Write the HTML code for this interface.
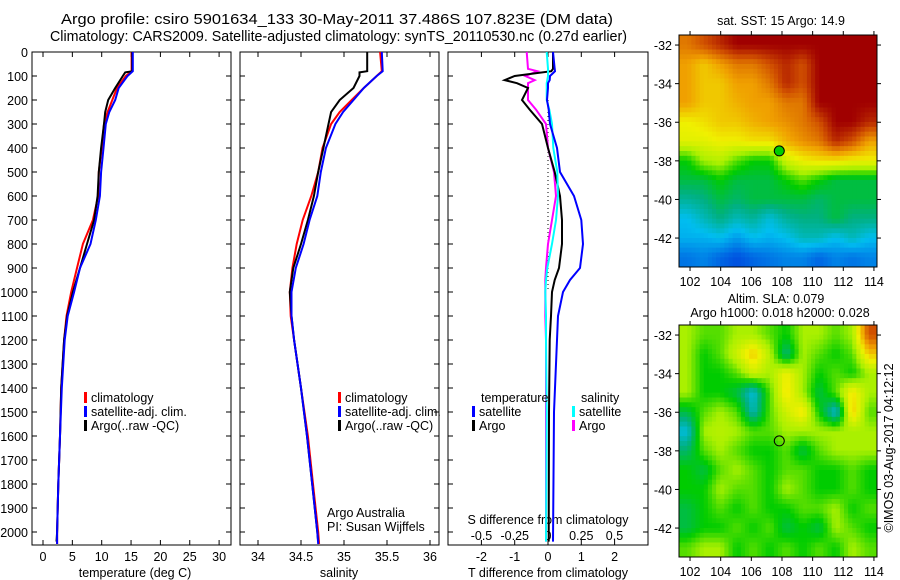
<!DOCTYPE html>
<html><head><meta charset="utf-8">
<style>
html,body{margin:0;padding:0;background:#fff;}
svg{display:block;font-family:"Liberation Sans",sans-serif;}
text{font-size:12.5px;fill:#000;}
</style></head>
<body>
<svg id="c" width="900" height="580" viewBox="0 0 900 580">
<text x="61" y="24" textLength="552" lengthAdjust="spacingAndGlyphs" style="font-size:15px">Argo profile: csiro 5901634_133 30-May-2011 37.486S 107.823E (DM data)</text>
<text x="50" y="41" textLength="577" lengthAdjust="spacingAndGlyphs" style="font-size:15px">Climatology: CARS2009. Satellite-adjusted climatology: synTS_20110530.nc (0.27d earlier)</text>
<g id="g"></g>
</svg>
<script>
// ---------- data ----------
const depthTicks=[0,100,200,300,400,500,600,700,800,900,1000,1100,1200,1300,1400,1500,1600,1700,1800,1900,2000];
const tTicks=[0,5,10,15,20,25,30];
const sTicks=[34,34.5,35,35.5,36];
const tdTicks=[-2,-1,0,1,2];
const sdTicks=[-0.5,-0.25,0,0.25,0.5];
const sdLabels=['-0.5','-0.25','0','0.25','0.5'];
const latTicks=[-32,-34,-36,-38,-40,-42];
const lonTicks=[102,104,106,108,110,112,114];

const dT=[0,80,100,150,200,250,300,400,500,600,700,800,900,1000,1100,1200,1400,1600,1800,2000,2050];
const tClim=[15.1,15.1,14.1,12.6,11.8,11.0,10.4,10.0,9.5,9.4,8.5,6.8,5.8,4.8,4.0,3.6,3.1,2.9,2.6,2.4,2.4];
const tSat=[15.3,15.3,14.4,12.9,12.3,11.3,10.7,10.3,9.9,9.7,9.0,8.1,6.3,5.3,4.2,3.7,3.2,2.9,2.6,2.4,2.4];
const dArgo=[0,80,85,100,150,200,250,300,400,500,600,700,800,900,1000,1100,1200,1400,1600,1800,2000,2040];
const tArgo=[15.2,15.2,14.0,13.6,12.3,11.1,10.6,10.4,9.9,9.5,9.3,8.7,7.5,6.3,5.1,4.1,3.6,3.1,2.9,2.6,2.4,2.3];
const sClim=[35.42,35.44,35.38,35.23,35.09,34.95,34.85,34.75,34.70,34.62,34.52,34.45,34.40,34.37,34.38,34.42,34.50,34.58,34.64,34.70,34.71];
const sSat=[35.44,35.45,35.38,35.23,35.11,34.99,34.90,34.79,34.73,34.69,34.60,34.53,34.44,34.39,34.39,34.42,34.50,34.57,34.63,34.69,34.70];
const sArgo=[35.27,35.27,35.18,35.18,35.11,34.95,34.85,34.82,34.76,34.70,34.65,34.58,34.50,34.41,34.37,34.39,34.42,34.50,34.57,34.63,34.69,34.70];
const dDiff=[0,70,80,100,117,130,150,200,240,300,400,500,600,700,800,900,950,1000,1100,1200,1500,2040];
const tdArgo=[0.15,0.15,0.1,-1.0,-1.3,-0.93,-0.6,-0.78,-0.55,-0.18,0.0,0.2,0.36,0.42,0.42,0.33,0.2,0.12,0.09,0.05,0.03,0.02];
const tdSat=[0.15,0.2,0.21,0.06,0.05,0.0,0.0,-0.03,0.02,0.06,0.27,0.36,0.78,1.0,1.05,0.96,0.66,0.45,0.3,0.27,0.18,0.15];
const sdArgo=[-0.16,-0.15,-0.08,-0.17,-0.1,-0.15,-0.15,-0.15,-0.09,-0.015,0.0,0.045,0.06,0.03,0.0,-0.015,-0.02,-0.02,-0.02,-0.015,-0.015,-0.015];
const sdSat=[-0.01,0.0,0.0,0.0,-0.005,-0.01,-0.01,-0.01,0.01,0.03,0.04,0.07,0.075,0.06,0.03,-0.005,-0.015,-0.02,-0.015,-0.015,-0.01,-0.015];

const sstGrid=[
[0.85,0.9,0.95,1,1,1,1,1,1,1,1,1],
[0.8,0.75,0.8,0.85,0.85,0.9,0.95,0.9,1,1,1,1],
[0.8,0.75,0.75,0.8,0.8,0.85,0.95,0.9,1,1,1,1],
[0.8,0.75,0.75,0.78,0.8,0.8,0.85,0.85,1,1,1,1],
[0.7,0.72,0.75,0.75,0.78,0.8,0.82,0.85,0.9,1,1,0.95],
[0.68,0.68,0.7,0.7,0.72,0.72,0.78,0.82,0.85,0.95,0.9,0.8],
[0.5,0.6,0.62,0.55,0.5,0.5,0.65,0.7,0.72,0.72,0.7,0.7],
[0.45,0.45,0.5,0.45,0.45,0.45,0.5,0.55,0.5,0.45,0.45,0.45],
[0.38,0.4,0.45,0.42,0.45,0.45,0.45,0.45,0.42,0.45,0.45,0.45],
[0.3,0.35,0.4,0.35,0.38,0.32,0.38,0.4,0.4,0.45,0.4,0.4],
[0.28,0.28,0.3,0.25,0.3,0.28,0.3,0.35,0.35,0.3,0.35,0.3],
[0.2,0.22,0.18,0.15,0.18,0.2,0.22,0.22,0.18,0.22,0.2,0.22]];
const slaGrid=[
[0.6,0.55,0.55,0.6,0.6,0.55,0.5,0.6,0.6,0.55,0.6,0.9],
[0.6,0.5,0.55,0.65,0.75,0.62,0.4,0.6,0.55,0.5,0.55,0.75],
[0.6,0.5,0.5,0.55,0.65,0.6,0.7,0.6,0.5,0.55,0.5,0.6],
[0.6,0.5,0.5,0.45,0.32,0.55,0.72,0.6,0.45,0.55,0.72,0.6],
[0.45,0.55,0.6,0.55,0.35,0.55,0.65,0.72,0.5,0.32,0.75,0.55],
[0.32,0.6,0.62,0.6,0.55,0.55,0.6,0.6,0.6,0.6,0.6,0.6],
[0.42,0.55,0.6,0.55,0.5,0.5,0.55,0.45,0.55,0.6,0.6,0.6],
[0.5,0.45,0.55,0.6,0.55,0.5,0.55,0.55,0.5,0.5,0.55,0.5],
[0.5,0.5,0.6,0.55,0.55,0.5,0.6,0.55,0.5,0.5,0.55,0.5],
[0.45,0.5,0.55,0.5,0.55,0.5,0.5,0.55,0.55,0.6,0.5,0.55],
[0.45,0.5,0.5,0.55,0.5,0.55,0.45,0.5,0.45,0.6,0.55,0.5],
[0.55,0.6,0.6,0.5,0.55,0.5,0.55,0.5,0.55,0.5,0.6,0.55]];
const argoLon=107.823, argoLat=-37.486;

// ---------- helpers ----------
const NS='http://www.w3.org/2000/svg';
const G=document.getElementById('g');
function mk(tag,attrs,parent){const e=document.createElementNS(NS,tag);for(const k in attrs)e.setAttribute(k,attrs[k]);(parent||G).appendChild(e);return e;}
function txt(x,y,s,anchor,name,size){const t=mk('text',{x:x,y:y,'text-anchor':anchor||'start'});if(size)t.style.fontSize=size+'px';t.textContent=s;


return t;}
const Y=d=>52+d*0.24;
const panels=[{x0:32,x1:231},{x0:240,x1:439},{x0:448,x1:648}];
const xT=v=>43+v*5.87, xS=v=>258+(v-34)*86, xTd=v=>548+v*33.3, xSd=v=>548+v*133;

depthTicks.forEach(d=>{txt(28,Y(d)+5,String(d),'end','depth-tick-label');});
panels.forEach((p,i)=>{
  const r=mk('rect',{x:p.x0,y:52,width:p.x1-p.x0,height:493,fill:'none',stroke:'#000','stroke-width':1});
  
  
  depthTicks.forEach(d=>{mk('line',{x1:p.x0,x2:p.x0+5,y1:Y(d),y2:Y(d),stroke:'#000'});mk('line',{x1:p.x1-5,x2:p.x1,y1:Y(d),y2:Y(d),stroke:'#000'});});
});
function xticks(vals,fx,labelY,name){vals.forEach(v=>{const x=fx(v);mk('line',{x1:x,x2:x,y1:52,y2:57,stroke:'#000'});mk('line',{x1:x,x2:x,y1:540,y2:545,stroke:'#000'});if(labelY)txt(x,labelY,String(v),'middle',name);});}
xticks(tTicks,xT,561,'temperature-tick-label');
xticks(sTicks,xS,561,'salinity-tick-label');
xticks(tdTicks,xTd,561,'t-diff-tick-label');
sdTicks.forEach((v,i)=>txt(xSd(v),540,sdLabels[i],'middle','s-diff-tick-label'));
txt(135,577,'temperature (deg C)','middle','x-axis-title-temperature');
txt(339,577,'salinity','middle','x-axis-title-salinity');
txt(548,577,'T difference from climatology','middle','x-axis-title-t-diff');
txt(548,524,'S difference from climatology','middle','x-axis-title-s-diff');

function line(xs,ds,fx,color,w,name){const pts=xs.map((v,i)=>fx(v).toFixed(1)+','+Y(ds[i]).toFixed(1)).join(' ');
const l=mk('polyline',{points:pts,fill:'none',stroke:color,'stroke-width':w});

}
line(tClim,dT,xT,'#f00',2,'temp-climatology-line');
line(tArgo,dArgo,xT,'#000',2,'temp-argo-line');
line(tSat,dT,xT,'#00f',2,'temp-satellite-line');
line(sClim,dT,xS,'#f00',2,'sal-climatology-line');
line(sArgo,dArgo,xS,'#000',2,'sal-argo-line');
line(sSat,dT,xS,'#00f',2,'sal-satellite-line');
mk('line',{x1:548,x2:548,y1:Y(200),y2:Y(1000),stroke:'#000','stroke-dasharray':'1,3'});
line(sdArgo,dDiff,xSd,'#f0f',2,'sdiff-argo-line');
line(tdArgo,dDiff,xTd,'#000',2,'tdiff-argo-line');
line(sdSat,dDiff,xSd,'#0ff',2,'sdiff-satellite-line');
line(tdSat,dDiff,xTd,'#00f',2,'tdiff-satellite-line');

function legend(x,y,items,prefix){items.forEach((it,i)=>{const yy=y+i*14;mk('rect',{x:x,y:yy-10,width:3,height:11,fill:it[1]});txt(x+7,yy,it[0],'start',prefix+'-'+it[2]);});}
legend(84,402,[['climatology','#f00','climatology'],['satellite-adj. clim.','#00f','satellite'],['Argo(..raw -QC)','#000','argo']],'temp-legend');
legend(338,402,[['climatology','#f00','climatology'],['satellite-adj. clim.','#00f','satellite'],['Argo(..raw -QC)','#000','argo']],'sal-legend');
txt(481,402,'temperature','start','diff-legend-temperature-heading');
txt(581,402,'salinity','start','diff-legend-salinity-heading');
legend(472,416,[['satellite','#00f','t-satellite'],['Argo','#000','t-argo']],'diff-legend');
legend(572,416,[['satellite','#0ff','s-satellite'],['Argo','#f0f','s-argo']],'diff-legend');
txt(327,517,'Argo Australia','start','argo-australia-label');
txt(327,531,'PI: Susan Wijffels','start','pi-label');

// ---------- maps ----------
const stops=[[0,[0,16,160]],[0.15,[0,80,224]],[0.3,[0,190,240]],[0.4,[0,176,130]],[0.5,[0,204,0]],[0.6,[170,240,0]],[0.7,[240,240,0]],[0.8,[240,160,0]],[0.9,[208,80,0]],[1,[160,0,0]]];
function cmap(v){v=Math.max(0,Math.min(1,v));for(let i=1;i<stops.length;i++){if(v<=stops[i][0]){const a=stops[i-1],b=stops[i],t=(v-a[0])/(b[0]-a[0]);const c=a[1].map((q,k)=>Math.round(q+(b[1][k]-q)*t));return 'rgb('+c+')';}}return 'rgb(160,0,0)';}
function sample(grid,u,w){const R=grid.length,C=grid[0].length;const fr=Math.max(0,Math.min(R-1,w*R-0.5)),fc=Math.max(0,Math.min(C-1,u*C-0.5));
const r0=Math.floor(fr),c0=Math.floor(fc),r1=Math.min(R-1,r0+1),c1=Math.min(C-1,c0+1),tr=fr-r0,tc=fc-c0;
return grid[r0][c0]*(1-tr)*(1-tc)+grid[r0][c1]*(1-tr)*tc+grid[r1][c0]*tr*(1-tc)+grid[r1][c1]*tr*tc;}
const lonMin=101.28,lonMax=114.2,latMax=-31.48,latMin=-43.5;
function map(y0,grid,name){
  const x0=679,x1=877,y1=y0+232;
  const fx=l=>x0+(l-lonMin)/(lonMax-lonMin)*(x1-x0), fy=l=>y0+(latMax-l)/(latMax-latMin)*(y1-y0);
  const N=48,M=48,cw=(x1-x0)/N,ch=(y1-y0)/M;
  const cells=mk('g',{});
  
  
  for(let r=0;r<M;r++)for(let c=0;c<N;c++){const v=sample(grid,(c+0.5)/N,(r+0.5)/M);
    mk('rect',{x:(x0+c*cw).toFixed(2),y:(y0+r*ch).toFixed(2),width:(cw+0.4).toFixed(2),height:(ch+0.4).toFixed(2),fill:cmap(v)},cells);}
  const f=mk('rect',{x:x0,y:y0,width:x1-x0,height:y1-y0,fill:'none',stroke:'#000'});
  
  
  latTicks.forEach(l=>{const y=fy(l);mk('line',{x1:x0-4,x2:x0,y1:y,y2:y,stroke:'#000'});mk('line',{x1:x1,x2:x1+4,y1:y,y2:y,stroke:'#000'});txt(672,y+5,String(l),'end',name+'-lat-label');});
  lonTicks.forEach(l=>{const x=fx(l);mk('line',{x1:x,x2:x,y1:y0-4,y2:y0,stroke:'#000'});mk('line',{x1:x,x2:x,y1:y1,y2:y1+4,stroke:'#000'});txt(x,y1+19,String(l),'middle',name+'-lon-label');});
  const c=mk('circle',{cx:fx(argoLon),cy:fy(argoLat),r:5,fill:name==='sst-map'?'#0c0':'none',stroke:'#000'});
  
  
}
map(35,sstGrid,'sst-map');
map(325,slaGrid,'sla-map');
txt(781,25,'sat. SST: 15 Argo: 14.9','middle','sst-map-title');
txt(776,303,'Altim. SLA: 0.079','middle','sla-map-title-1');
txt(780,317,'Argo h1000: 0.018 h2000: 0.028','middle','sla-map-title-2');
const v=txt(0,0,'©IMOS 03-Aug-2017 04:12:12','middle','imos-timestamp');
v.setAttribute('transform','translate(893,448) rotate(-90)');
</script>
</body></html>
